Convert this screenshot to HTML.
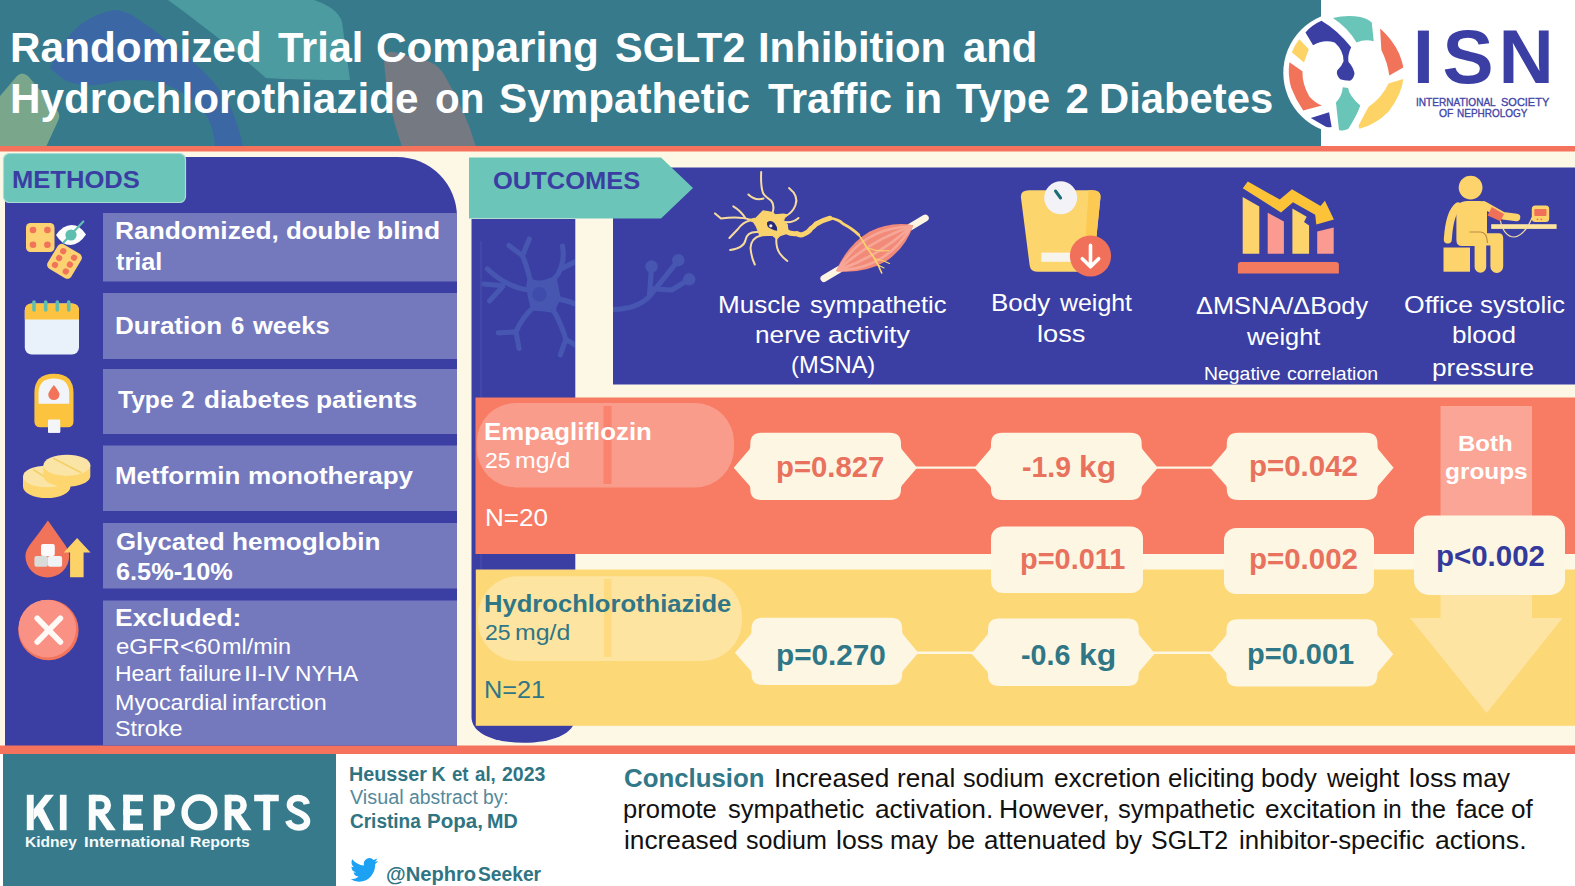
<!DOCTYPE html>
<html><head><meta charset="utf-8">
<style>
html,body{margin:0;padding:0;}
body{width:1575px;height:886px;overflow:hidden;background:#fdf8e6;font-family:"Liberation Sans",sans-serif;position:relative;}
.abs{position:absolute;}
.t{position:absolute;white-space:nowrap;line-height:1;}
#bg{position:absolute;left:0;top:0;}
.title{color:#fff;font-weight:bold;font-size:42.3px;word-spacing:3.5px;}
.row{position:absolute;left:103.5px;width:353.5px;background:#7478bd;}
.rt{color:#fff;font-weight:bold;font-size:24.5px;word-spacing:4px;left:116px;}
.ex{color:#fff;font-size:23px;left:116px;word-spacing:2px;}
.oc{color:#fff;font-size:25px;text-align:center;word-spacing:2px;}
.pv{font-weight:bold;font-size:28px;text-align:center;}
</style></head><body>
<svg id="bg" width="1575" height="886" viewBox="0 0 1575 886">
<!-- header -->
<rect x="0" y="0" width="1322" height="147" fill="#367a8c"/>
<rect x="1321" y="0" width="254" height="147" fill="#ffffff"/>
<rect x="0" y="146" width="1575" height="5.5" fill="#f5725c"/>
<!-- methods panel -->
<path d="M5 157 H397 A60 60 0 0 1 457 217 V746 H5 Z" fill="#3b3fa4"/>
<!-- outcomes left column -->
<path d="M471.5 219 H575.3 V717 C575.3 734 552 742.8 523.4 742.8 C495 742.8 471.5 734 471.5 717 Z" fill="#3b3fa4"/>
<!-- outcomes main panel -->
<rect x="613" y="167.5" width="962" height="217" fill="#3b3fa4"/>
<!-- ===== faded neuron in outcomes ===== -->
<defs><clipPath id="colclip"><rect x="471.5" y="219" width="103.5" height="525"/><rect x="613" y="167.5" width="962" height="217"/></clipPath></defs>
<g clip-path="url(#colclip)">
<g transform="translate(465 215) scale(0.2144)" stroke="#4656b1" stroke-linecap="round" stroke-linejoin="round" fill="none" stroke-width="24">
<path d="M305 310 Q290 240 268 190 L205 142 M268 190 L300 112"/>
<path d="M415 300 Q470 240 455 145 M450 250 Q490 230 520 215"/>
<path d="M300 350 Q200 340 105 252 M175 330 L88 322 M175 335 L115 400"/>
<path d="M320 430 Q265 480 238 545 L155 550 M238 545 L252 622"/>
<path d="M410 440 Q450 510 470 580 L525 612 M470 580 L445 652"/>
<path d="M430 390 Q480 400 530 420"/>
<path d="M300 300 Q350 330 420 290 Q430 340 440 390 Q420 420 415 450 Q360 440 315 440 Q300 390 295 350 Q290 320 300 300 Z" fill="#4656b1" stroke-width="14"/>
<path d="M690 440 Q800 440 860 380 L870 245 M860 380 L995 212 M880 345 L965 350 L1045 300"/>
</g>
<g fill="#4656b1"><circle cx="651.5" cy="266.5" r="6.2"/><circle cx="678.3" cy="260.2" r="6.2"/><circle cx="689.2" cy="279.3" r="6.2"/></g>
<circle cx="539.5" cy="294.3" r="7.2" fill="#404cab"/>
<line x1="481" y1="241" x2="481" y2="724" stroke="#5a63b8" stroke-width="1" opacity="0.5"/>
</g>
<!-- red / yellow bands -->
<rect x="475.5" y="397.5" width="1100" height="156.5" fill="#f87b64"/>
<rect x="475.8" y="569.5" width="1100" height="156.3" fill="#fdd877"/>
<!-- bottom stripe + footer -->
<rect x="0" y="745.5" width="1575" height="9" fill="#f5725c"/>
<rect x="0" y="754" width="1575" height="132" fill="#ffffff"/>
<rect x="3" y="754" width="333" height="132" fill="#367a8c"/>
<!-- method rows -->
<g fill="#7479be">
<rect x="103" y="213" width="354" height="68.5"/>
<rect x="103" y="293" width="354" height="66"/>
<rect x="103" y="369" width="354" height="65"/>
<rect x="103" y="445.5" width="354" height="65.5"/>
<rect x="103" y="523" width="354" height="65.5"/>
<rect x="103" y="600.5" width="354" height="145"/>
</g>
<!-- capsule pills -->
<rect x="476.8" y="403" width="257.2" height="84.4" rx="39" fill="#ffffff" fill-opacity="0.25"/>
<rect x="603.5" y="406" width="8" height="78" fill="#f87b64" fill-opacity="0.75"/>
<rect x="478" y="576.2" width="264" height="84.8" rx="40" fill="#ffffff" fill-opacity="0.3"/>
<rect x="604" y="579" width="7.5" height="78" fill="#fdd877" fill-opacity="0.75"/>
<!-- both-groups arrow -->
<path d="M1440.5 406 H1532 V618 H1562.5 L1486.7 713 L1410 618 H1440.5 Z" fill="#ffffff" fill-opacity="0.32"/>
<!-- connectors -->
<g stroke="#fcf6e3" stroke-width="2.4">
<line x1="915" y1="467.6" x2="976" y2="467.6"/>
<line x1="1156" y1="467.6" x2="1212" y2="467.6"/>
<line x1="915" y1="652.8" x2="973" y2="652.8"/>
<line x1="1152" y1="652.8" x2="1212" y2="652.8"/>
</g>
<!-- plaque boxes -->
<defs>
<path id="plq" d="M11 0 H139.7 Q150.7 0 150.7 11 V14 L151.4 16.5 L166.8 35 L151.4 53 L150.7 55 V56.3 Q150.7 67.3 139.7 67.3 H11 Q0 67.3 0 56.3 V55 L-0.7 53 L-16.6 35 L-0.7 16.5 L0 14 V11 Q0 0 11 0 Z"/>
</defs>
<g fill="#fcf6e3">
<use href="#plq" x="750.3" y="432.7"/>
<use href="#plq" x="991" y="432.7"/>
<use href="#plq" x="1226.8" y="432.7"/>
<use href="#plq" x="751.5" y="617.7"/>
<use href="#plq" x="988" y="618.6"/>
<use href="#plq" x="1226.5" y="619.2"/>
<rect x="991" y="526.5" width="152" height="66.5" rx="12"/>
<rect x="1224" y="528" width="150" height="66" rx="12"/>
<rect x="1414" y="515.5" width="151" height="79.5" rx="15"/>
</g>
<!-- tags -->
<rect x="3.5" y="153.5" width="182" height="49" rx="6" fill="#6bc5b9" stroke="#a9ddd6" stroke-width="1.2"/>
<path d="M469 157.5 H661 L693 188 L661 218.5 H469 Z" fill="#6bc5b9"/>
</svg>
<svg class="abs" style="left:0;top:0" width="1575" height="886" viewBox="0 0 1575 886">
<!-- ===== Methods icons ===== -->
<!-- dice -->
<rect x="26" y="223" width="28.5" height="29" rx="4.5" fill="#fdd272"/>
<g fill="#f0735a"><circle cx="33" cy="230" r="3.3"/><circle cx="47.4" cy="230" r="3.3"/><circle cx="33" cy="244.7" r="3.3"/><circle cx="47.4" cy="244.7" r="3.3"/></g>
<!-- eye -->
<path d="M56 235 Q63 225 71.5 225 Q80 225 86 234.5 Q79 245 70.5 245 Q62 245 56 235 Z" fill="#fdfdfb"/>
<circle cx="71" cy="235" r="5.6" fill="#5fbfae"/>
<line x1="83.3" y1="221.5" x2="63.5" y2="242.5" stroke="#5fbfae" stroke-width="2.2" stroke-linecap="round"/>
<g transform="translate(64.5 261.3) rotate(31)">
<rect x="-13.7" y="-14.2" width="27.4" height="28.4" rx="4.5" fill="#fdd272"/>
<g fill="#f0735a"><circle cx="-6.3" cy="-8" r="3.1"/><circle cx="-6.3" cy="0" r="3.1"/><circle cx="-6.3" cy="8" r="3.1"/><circle cx="6.3" cy="-8" r="3.1"/><circle cx="6.3" cy="0" r="3.1"/><circle cx="6.3" cy="8" r="3.1"/></g>
</g>
<!-- calendar -->
<rect x="24.8" y="303.5" width="54.2" height="51" rx="7" fill="#e9f1fb"/>
<path d="M24.8 319.5 V310.5 Q24.8 303.5 31.8 303.5 H72 Q79 303.5 79 310.5 V319.5 Z" fill="#fdc340"/>
<g stroke="#5fbfae" stroke-width="3.6" stroke-linecap="round"><line x1="34" y1="302" x2="34" y2="310"/><line x1="45.7" y1="302" x2="45.7" y2="310"/><line x1="57.3" y1="302" x2="57.3" y2="310"/><line x1="68.7" y1="302" x2="68.7" y2="310"/></g>
<!-- glucose meter -->
<rect x="48" y="417" width="12.2" height="15.8" rx="1" fill="#f4f5f8"/>
<path d="M34.4 393 Q34.4 373.7 54 373.7 Q73.5 373.7 73.5 393 V421.3 Q73.5 427.3 67.5 427.3 H40.4 Q34.4 427.3 34.4 421.3 Z" fill="#fcc33f"/>
<path d="M38.5 393.5 Q38.5 378.5 54 378.5 Q69.2 378.5 69.2 393.5 V403.8 H38.5 Z" fill="#f1f4f8"/>
<path d="M53.9 385 Q59.5 392 59.5 394.5 A5.6 5.6 0 0 1 48.3 394.5 Q48.3 392 53.9 385 Z" fill="#f0735a"/>
<rect x="48" y="419.5" width="12.2" height="13.2" rx="1" fill="#f4f5f8"/>
<!-- pills -->
<g>
<path d="M23 476.5 V486.5 A23.7 11.5 0 0 0 70.5 486.5 V476.5 Z" fill="#fdd66f"/>
<ellipse cx="46.7" cy="476.5" rx="23.7" ry="10.8" fill="#fbe5a6"/>
<line x1="33" y1="469.5" x2="50" y2="480" stroke="#f3d069" stroke-width="1.6"/>
<path d="M43.4 465.5 V476.5 A23.5 10.8 0 0 0 90.3 476.5 V465.5 Z" fill="#fdd66f"/>
<ellipse cx="66.9" cy="465.3" rx="23.5" ry="10.6" fill="#fbe5a6"/>
<line x1="53.3" y1="458.3" x2="81.3" y2="472.8" stroke="#f3d069" stroke-width="1.8"/>
</g>
<!-- blood drop w sugar -->
<path d="M47.9 520.5 Q56 532 63 542 Q69.2 550 69.2 556 A21.9 21.5 0 0 1 25.4 556 Q25.4 550 32 542 Q40 532 47.9 520.5 Z" fill="#f0735a"/>
<rect x="41" y="544" width="13.8" height="12" rx="2" fill="#fbfbfb"/>
<rect x="34.4" y="556" width="13.5" height="10.8" rx="2" fill="#d9dcd8"/>
<rect x="47.9" y="556" width="14.2" height="10.8" rx="2" fill="#eff3f6"/>
<path d="M77.1 538 L90.5 552.6 H83.6 V577.2 H70.1 V552.6 H63.8 Z" fill="#fdd368"/>
<!-- x circle -->
<circle cx="48.4" cy="630" r="30.2" fill="#f0735a"/>
<circle cx="46.6" cy="627.8" r="27.9" fill="#f99284"/>
<circle cx="47.4" cy="628.8" r="28.7" fill="#f99284"/>
<g stroke="#fffaf6" stroke-width="5.6" stroke-linecap="round"><line x1="37.2" y1="618.3" x2="60.4" y2="642"/><line x1="60.4" y1="618.3" x2="37.2" y2="642"/></g>

<!-- ===== Outcome icons ===== -->
<!-- scale -->
<path d="M1021 198 Q1020 190.3 1029 190.3 H1092.5 Q1101.3 190.3 1100.4 198 L1093.6 265 Q1093 271.8 1086 271.8 H1037 Q1030.3 271.8 1029.6 265 Z" fill="#fdd56d"/>
<path d="M1088.5 190.3 H1092.5 Q1101.3 190.3 1100.4 198 L1094.5 256 L1085.5 240 Z" fill="#fcca52"/>
<circle cx="1060.7" cy="197.8" r="16.5" fill="#f3f2f6"/>
<line x1="1055.5" y1="191" x2="1060.6" y2="198" stroke="#1f6d76" stroke-width="3" stroke-linecap="round"/>
<rect x="1041.3" y="252.6" width="30" height="9.2" fill="#f7f4ee"/>
<circle cx="1090.5" cy="256" r="20.6" fill="#f0705a"/>
<g stroke="#fff" stroke-width="3.6" stroke-linecap="round" stroke-linejoin="round" fill="none"><line x1="1090.5" y1="245.4" x2="1090.5" y2="265.5"/><path d="M1082.3 258.7 L1090.5 266.8 L1098.7 258.7"/></g>
<!-- bar chart -->
<path d="M1242.7 197.1 L1259.3 206.6 V253.7 H1242.7 Z" fill="#fdd46b"/>
<path d="M1267.7 212.7 L1283.9 221.5 V253.7 H1267.7 Z" fill="#fb9a90"/>
<path d="M1292.4 208.6 L1306.7 216.7 L1304 222.1 L1309.1 225.5 V253.7 H1292.4 Z" fill="#fdd46b"/>
<path d="M1317.2 231.6 L1333.7 227.5 V253.7 H1317.2 Z" fill="#fb9a90"/>
<path d="M1237.9 265.1 Q1237.9 262.1 1240.9 262.1 H1335.9 Q1338.9 262.1 1338.9 265.1 V273.6 H1237.9 Z" fill="#f27a5e"/>
<path d="M1247.8 181.6 L1279.8 199.6 L1292 189.2 L1320.5 206 L1324.9 200.8 L1333.9 219.6 L1316.3 224.4 L1315.2 214.8 L1293 202.2 L1281 212.6 L1242.8 188.2 Z" fill="#fcc338"/>
<!-- BP person -->
<g fill="#fdd46b">
<circle cx="1470.6" cy="187.6" r="11.9"/>
<path d="M1456.4 212 Q1456.4 201 1467.5 201 H1480 Q1487 201 1487 210 V233.2 H1498.5 Q1503.2 233.2 1503.2 238 V266.5 A6.4 6.4 0 0 1 1490.4 266.5 V245.5 H1486.2 V267 A5.8 5.8 0 0 1 1474.6 267 V246 H1462 Q1456.4 246 1456.4 240 Z"/>
<rect x="1443.5" y="247.5" width="26.5" height="24.2"/>
</g>
<path d="M1458 206.5 Q1449.5 213 1447.8 239.5" stroke="#fdd46b" stroke-width="8" stroke-linecap="round" fill="none"/>
<path d="M1484 205 L1503 215.8 L1516.5 217.4" stroke="#fdd46b" stroke-width="7.6" stroke-linecap="round" stroke-linejoin="round" fill="none"/>
<path d="M1491.8 207 L1504 214 L1500.6 221.2 L1487.6 215.6 Z" fill="#f0705a"/>
<path d="M1469.5 232 H1480.5 Q1487 232.3 1487.5 243" stroke="#b98a45" stroke-width="1.1" fill="none"/>
<rect x="1491.2" y="224.2" width="65.4" height="4.7" fill="#fce3a0"/>
<rect x="1531.8" y="205.5" width="17.4" height="16.6" rx="3.5" fill="#fdd46b"/>
<rect x="1534.3" y="209" width="12.2" height="7" rx="1" fill="#f0705a"/>
<circle cx="1537.5" cy="219.3" r="0.9" fill="#f0705a"/><circle cx="1541.3" cy="219.3" r="0.9" fill="#f0705a"/>
<path d="M1500.4 220.8 Q1504 236.5 1514 237 Q1524 236.5 1532.2 217.4" stroke="#f5dca4" stroke-width="1.2" fill="none"/>
</svg>
<svg class="abs" style="left:0;top:0" width="1575" height="886" viewBox="0 0 1575 886">
<!-- ===== header decorations (faded big logo) ===== -->
<defs><clipPath id="hdr"><rect x="0" y="0" width="1321" height="146"/></clipPath></defs>
<g clip-path="url(#hdr)">
<path d="M50 68 Q62 40 80 25 Q98 12 115 10 Q126 11 135 17 Q152 28 169 42 Q187 56 203 71 Q218 86 228 102 Q238 122 243 147 H215 Q214 130 208 118 Q199 104 186 95 Q170 84 152 81 Q135 79 118 81 Q106 84 95 85 Q78 86 64 80 Z" fill="#3b68a5"/>
<path d="M168 0 H314 Q338 8 342 22 L350 80 Q300 80 266 78 Q232 48 200 24 Q182 10 168 0 Z" fill="#4b9ba0"/>
<path d="M0 96 L17 76 Q22 71 28 76 L57 110 Q61 115 58 121 L46 147 H0 Z" fill="#7aa68b"/>
<path d="M384 60 Q386 50 394 52 L430 62 Q440 66 446 78 Q466 112 476 147 H402 Q386 100 384 60 Z" fill="#747982"/>
</g>
<!-- ===== neuron + muscle ===== -->
<g transform="translate(874.6 248.3) rotate(-30.8)">
<line x1="-59" y1="0" x2="59" y2="0" stroke="#fdf4e2" stroke-width="7" stroke-linecap="round"/>
<path d="M-45 0 Q-22 -17 4 -17 Q28 -15 45 0 Q28 15 4 17 Q-22 17 -45 0 Z" fill="#f28a7a"/>
<g fill="none" stroke="#f7a797" stroke-width="2.6"><path d="M-43 0 Q0 -24 43 0"/><path d="M-43 0 Q0 -9 43 0"/><path d="M-43 0 Q0 9 43 0"/><path d="M-43 0 Q0 24 43 0"/></g>
</g>
<g fill="none" stroke="#fbd36e" stroke-linecap="round" stroke-linejoin="round">
<path d="M786 231.5 Q792 234.5 797 233.5 Q800 236 804 234 Q809 232 811 228.5 Q814 226.5 816 224 Q822 220.5 830 218.2" stroke-width="5"/>
<path d="M830 218.2 Q838 219 843 223.7 Q853 229 858.7 234.8" stroke-width="2.8"/>
<path d="M858.7 234.8 Q863 241 866.7 247.5 Q871 253 874.6 258.7 Q879 266 881.7 273" stroke-width="1.6"/>
<path d="M867.5 248 Q878 252 889 250.5 M874.6 258.7 Q883 260 889.5 263.5 M878 265 L884 268" stroke-width="1.1"/>
</g>
<g fill="none" stroke="#f8dc9c" stroke-width="2" stroke-linecap="round" stroke-linejoin="round">
<path d="M772.5 213 Q775 205 771 200.5 Q765 196.5 763 193 Q760.5 186 761.2 172"/>
<path d="M763.5 198.5 Q755 201 748.4 194.5"/>
<path d="M786 216 Q793 212 795.5 205 Q799 196 789 188"/>
<path d="M785 222 Q793 223 798.5 218"/>
<path d="M751 220 Q740 216 721 218.5 L715 213.4"/>
<path d="M745 217.6 Q741 211 733.3 206.3"/>
<path d="M750 220.5 Q743 222 738 229 L729.4 238"/>
<path d="M757.5 232 Q747 231.5 745.5 240 Q744 248 730.2 250"/>
<path d="M761 235.5 Q751 238 750.5 248 Q751.5 258 754.8 264.5"/>
<path d="M776.5 237 Q775.5 247 779.5 253 Q783 258 787.3 261"/>
</g>
<path d="M748 219.8 L756.2 218 Q760 214 763 210.9 L769.1 211.9 L772.5 212.6 L775.2 214.8 L783.3 214.2 L787.4 214.8 L784.9 217.3 Q783.3 219.5 784 221.4 L787.4 224.8 Q787 228 788.7 231.6 L787.4 233.2 L780 235.6 L776.8 238.8 L772.5 235.2 L760.3 235.8 Q759 234 758.3 231.6 L756.2 226.1 L753.5 222 Z" fill="#fbd36e" stroke="#fbd36e" stroke-width="1.2" stroke-linejoin="round"/>
<path d="M767 222.5 Q770.5 219.5 774.5 223 Q777.5 226.5 777.2 230.8 Q774 230.8 771.5 229 Q766.5 227.5 767 222.5 Z" fill="#262b78"/>
<circle cx="770.8" cy="225.8" r="1.6" fill="#f4efe6"/>
<!-- ===== ISN logo ===== -->
<circle cx="1344.3" cy="72.8" r="61" fill="#ffffff"/>
<g transform="translate(1275 5) scale(0.15235)">
<path d="M380 85 Q470 62 560 78 Q610 90 635 115 L648 238 Q590 222 535 246 Q480 150 380 85 Z" fill="#69c5b8"/>
<path d="M690 155 Q770 225 815 320 Q838 380 842 410 L750 462 Q740 380 698 295 Z" fill="#f0735a"/>
<path d="M842 485 Q835 580 745 700 Q660 785 555 812 L548 792 Q585 720 615 668 Q700 610 745 515 Z" fill="#fdd365"/>
<path d="M445 540 L480 545 Q485 595 560 660 Q540 720 482 812 Q450 830 420 820 L400 640 Q440 600 445 540 Z" fill="#69c5b8"/>
<path d="M235 742 L355 704 L372 800 Q345 808 325 795 Z" fill="#3b3fa4"/>
<path d="M95 375 L180 435 Q178 520 225 600 Q260 640 308 660 L185 692 Q135 620 105 540 Q82 450 95 375 Z" fill="#f0735a"/>
<path d="M160 225 L222 290 L190 377 L110 310 Q130 260 160 225 Z" fill="#fdd365"/>
<path d="M200 180 Q245 130 305 104 Q410 165 500 278 Q475 330 482 372 Q515 410 522 450 Q515 490 492 497 Q450 495 428 488 Q400 460 408 430 Q440 400 450 370 Q452 300 392 246 Q320 222 250 264 Z" fill="#3b3fa4"/>
</g>
<!-- ===== KI REPORTS ===== -->
<g transform="translate(15 780) scale(0.19685)" fill="#fbfdfd">
<rect x="60" y="75" width="35" height="180"/>
<path d="M95 148 L153 75 H198 L95 205 Z"/><path d="M105 165 L135 128 L200 255 H157 Z"/>
<rect x="228" y="75" width="34" height="180"/>
<rect x="375" y="75" width="35" height="180"/>
<path d="M392 91.5 H436.5 A36.8 36.8 0 0 1 436.5 165 H392" fill="none" stroke="#fbfdfd" stroke-width="33"/>
<path d="M415 178 H458 L512 255 H468 Z"/>
<rect x="550" y="75" width="34" height="180"/><rect x="550" y="75" width="100" height="33"/><rect x="550" y="148" width="92" height="32"/><rect x="550" y="222" width="100" height="33"/>
<rect x="705" y="75" width="35" height="180"/>
<path d="M722 91.5 H761.5 A36.8 36.8 0 0 1 761.5 165 H722" fill="none" stroke="#fbfdfd" stroke-width="33"/>
<circle cx="937" cy="165" r="75.5" fill="none" stroke="#fbfdfd" stroke-width="33"/>
<rect x="1065" y="75" width="35" height="180"/>
<path d="M1082 91.5 H1126.5 A36.8 36.8 0 0 1 1126.5 165 H1082" fill="none" stroke="#fbfdfd" stroke-width="33"/>
<path d="M1105 178 H1148 L1202 255 H1158 Z"/>
<rect x="1215" y="75" width="125" height="33"/><rect x="1261" y="75" width="35" height="180"/>
<path d="M1482 122 C1474 82 1400 80 1396 124 C1392 166 1480 160 1484 208 C1486 252 1402 254 1388 206" fill="none" stroke="#fbfdfd" stroke-width="32"/>
</g>
<!-- ===== twitter bird ===== -->
<g transform="translate(350.4 855.4) scale(1.15 1.21)">
<path fill="#1da1f2" d="M23.953 4.57a10 10 0 01-2.825.775 4.958 4.958 0 002.163-2.723c-.951.555-2.005.959-3.127 1.184a4.92 4.92 0 00-8.384 4.482C7.69 8.095 4.067 6.13 1.64 3.162a4.822 4.822 0 00-.666 2.475c0 1.71.87 3.213 2.188 4.096a4.904 4.904 0 01-2.228-.616v.06a4.923 4.923 0 003.946 4.827 4.996 4.996 0 01-2.212.085 4.936 4.936 0 004.604 3.417 9.867 9.867 0 01-6.102 2.105c-.39 0-.779-.023-1.17-.067a13.995 13.995 0 007.557 2.209c9.053 0 13.998-7.496 13.998-13.985 0-.21 0-.42-.015-.63A9.935 9.935 0 0024 4.59z"/>
</g>
</svg>
<div class="t " style="top:27px;font-size:42px;font-weight:bold;left:9.55px;transform-origin:0 0;transform:scaleX(1.0083);color:#ffffff;">Randomized</div>
<div class="t " style="top:27px;font-size:42px;font-weight:bold;left:277.50px;transform-origin:0 0;transform:scaleX(0.9881);color:#ffffff;">Trial</div>
<div class="t " style="top:27px;font-size:42px;font-weight:bold;left:375.88px;transform-origin:0 0;transform:scaleX(1.0052);color:#ffffff;">Comparing</div>
<div class="t " style="top:27px;font-size:42px;font-weight:bold;left:614.95px;transform-origin:0 0;transform:scaleX(0.9867);color:#ffffff;">SGLT2</div>
<div class="t " style="top:27px;font-size:42px;font-weight:bold;left:758.29px;transform-origin:0 0;transform:scaleX(0.9958);color:#ffffff;">Inhibition</div>
<div class="t " style="top:27px;font-size:42px;font-weight:bold;left:962.95px;transform-origin:0 0;transform:scaleX(0.9968);color:#ffffff;">and</div>
<div class="t " style="top:78px;font-size:42px;font-weight:bold;left:9.56px;transform-origin:0 0;transform:scaleX(1.0061);color:#ffffff;">Hydrochlorothiazide</div>
<div class="t " style="top:78px;font-size:42px;font-weight:bold;left:434.64px;transform-origin:0 0;transform:scaleX(0.9611);color:#ffffff;">on</div>
<div class="t " style="top:78px;font-size:42px;font-weight:bold;left:498.94px;transform-origin:0 0;transform:scaleX(1.0051);color:#ffffff;">Sympathetic</div>
<div class="t " style="top:78px;font-size:42px;font-weight:bold;left:768.00px;transform-origin:0 0;transform:scaleX(0.9840);color:#ffffff;">Traffic</div>
<div class="t " style="top:78px;font-size:42px;font-weight:bold;left:904.02px;transform-origin:0 0;transform:scaleX(1.0193);color:#ffffff;">in</div>
<div class="t " style="top:78px;font-size:42px;font-weight:bold;left:955.60px;transform-origin:0 0;transform:scaleX(0.9940);color:#ffffff;">Type</div>
<div class="t " style="top:78px;font-size:42px;font-weight:bold;left:1065.39px;letter-spacing:0.00px;color:#ffffff;">2</div>
<div class="t " style="top:78px;font-size:42px;font-weight:bold;left:1099.39px;transform-origin:0 0;transform:scaleX(0.9956);color:#ffffff;">Diabetes</div>
<div class="t " style="top:168px;font-size:24.5px;font-weight:bold;left:11.53px;transform-origin:0 0;transform:scaleX(1.0437);color:#3a3ea3;">METHODS</div>
<div class="t " style="top:169px;font-size:24.5px;font-weight:bold;left:493.06px;transform-origin:0 0;transform:scaleX(1.0400);color:#3a3ea3;">OUTCOMES</div>
<div class="t " style="top:219px;font-size:24px;font-weight:bold;left:114.74px;transform-origin:0 0;transform:scaleX(1.0973);color:#ffffff;">Randomized,</div>
<div class="t " style="top:219px;font-size:24px;font-weight:bold;left:286.43px;transform-origin:0 0;transform:scaleX(1.0778);color:#ffffff;">double</div>
<div class="t " style="top:219px;font-size:24px;font-weight:bold;left:377.35px;transform-origin:0 0;transform:scaleX(1.1003);color:#ffffff;">blind</div>
<div class="t " style="top:250px;font-size:24px;font-weight:bold;left:116.29px;transform-origin:0 0;transform:scaleX(1.0487);color:#ffffff;">trial</div>
<div class="t " style="top:314px;font-size:24px;font-weight:bold;left:114.76px;transform-origin:0 0;transform:scaleX(1.0858);color:#ffffff;">Duration</div>
<div class="t " style="top:314px;font-size:24px;font-weight:bold;left:231.00px;letter-spacing:0.00px;color:#ffffff;">6</div>
<div class="t " style="top:314px;font-size:24px;font-weight:bold;left:253.11px;transform-origin:0 0;transform:scaleX(1.0630);color:#ffffff;">weeks</div>
<div class="t " style="top:388px;font-size:24px;font-weight:bold;left:118.10px;transform-origin:0 0;transform:scaleX(1.0246);color:#ffffff;">Type</div>
<div class="t " style="top:388px;font-size:24px;font-weight:bold;left:181.20px;letter-spacing:0.00px;color:#ffffff;">2</div>
<div class="t " style="top:388px;font-size:24px;font-weight:bold;left:204.02px;transform-origin:0 0;transform:scaleX(1.0835);color:#ffffff;">diabetes</div>
<div class="t " style="top:388px;font-size:24px;font-weight:bold;left:316.05px;transform-origin:0 0;transform:scaleX(1.0997);color:#ffffff;">patients</div>
<div class="t " style="top:464px;font-size:24px;font-weight:bold;left:114.77px;transform-origin:0 0;transform:scaleX(1.0812);color:#ffffff;">Metformin</div>
<div class="t " style="top:464px;font-size:24px;font-weight:bold;left:248.47px;transform-origin:0 0;transform:scaleX(1.0859);color:#ffffff;">monotherapy</div>
<div class="t " style="top:530px;font-size:24px;font-weight:bold;left:115.53px;transform-origin:0 0;transform:scaleX(1.0726);color:#ffffff;">Glycated</div>
<div class="t " style="top:530px;font-size:24px;font-weight:bold;left:232.25px;transform-origin:0 0;transform:scaleX(1.0916);color:#ffffff;">hemoglobin</div>
<div class="t " style="top:560px;font-size:24px;font-weight:bold;left:115.66px;transform-origin:0 0;transform:scaleX(1.0540);color:#ffffff;">6.5%-10%</div>
<div class="t " style="top:606px;font-size:24px;font-weight:bold;left:114.74px;transform-origin:0 0;transform:scaleX(1.1020);color:#ffffff;">Excluded:</div>
<div class="t " style="top:636px;font-size:22.5px;font-weight:normal;left:115.54px;transform-origin:0 0;transform:scaleX(1.0647);color:#ffffff;">eGFR&lt;60</div>
<div class="t " style="top:636px;font-size:22.5px;font-weight:normal;left:222.24px;transform-origin:0 0;transform:scaleX(1.0404);color:#ffffff;">ml/min</div>
<div class="t " style="top:663px;font-size:22.5px;font-weight:normal;left:114.67px;transform-origin:0 0;transform:scaleX(1.0194);color:#ffffff;">Heart</div>
<div class="t " style="top:663px;font-size:22.5px;font-weight:normal;left:178.69px;transform-origin:0 0;transform:scaleX(1.0188);color:#ffffff;">failure</div>
<div class="t " style="top:663px;font-size:22.5px;font-weight:normal;left:244.48px;transform-origin:0 0;transform:scaleX(1.1084);color:#ffffff;">II-IV</div>
<div class="t " style="top:663px;font-size:22.5px;font-weight:normal;left:294.79px;transform-origin:0 0;transform:scaleX(1.0082);color:#ffffff;">NYHA</div>
<div class="t " style="top:692px;font-size:22.5px;font-weight:normal;left:114.64px;transform-origin:0 0;transform:scaleX(1.0342);color:#ffffff;">Myocardial</div>
<div class="t " style="top:692px;font-size:22.5px;font-weight:normal;left:232.44px;transform-origin:0 0;transform:scaleX(1.0375);color:#ffffff;">infarction</div>
<div class="t " style="top:718px;font-size:22.5px;font-weight:normal;left:115.46px;transform-origin:0 0;transform:scaleX(1.0378);color:#ffffff;">Stroke</div>
<div class="t " style="top:293px;font-size:24.5px;font-weight:normal;left:718.47px;transform-origin:0 0;transform:scaleX(1.0647);color:#ffffff;">Muscle</div>
<div class="t " style="top:293px;font-size:24.5px;font-weight:normal;left:810.27px;transform-origin:0 0;transform:scaleX(1.0450);color:#ffffff;">sympathetic</div>
<div class="t " style="top:323px;font-size:24.5px;font-weight:normal;left:754.89px;transform-origin:0 0;transform:scaleX(1.0706);color:#ffffff;">nerve</div>
<div class="t " style="top:323px;font-size:24.5px;font-weight:normal;left:828.01px;transform-origin:0 0;transform:scaleX(1.0943);color:#ffffff;">activity</div>
<div class="t " style="top:353px;font-size:24.5px;font-weight:normal;left:791.45px;transform-origin:0 0;transform:scaleX(0.9674);color:#ffffff;">(MSNA)</div>
<div class="t " style="top:291px;font-size:24.5px;font-weight:normal;left:990.78px;transform-origin:0 0;transform:scaleX(1.0595);color:#ffffff;">Body</div>
<div class="t " style="top:291px;font-size:24.5px;font-weight:normal;left:1059.50px;transform-origin:0 0;transform:scaleX(1.0168);color:#ffffff;">weight</div>
<div class="t " style="top:322px;font-size:24.5px;font-weight:normal;left:1036.82px;transform-origin:0 0;transform:scaleX(1.1114);color:#ffffff;">loss</div>
<div class="t " style="top:294px;font-size:24.5px;font-weight:normal;left:1196.48px;transform-origin:0 0;transform:scaleX(1.0356);color:#ffffff;">ΔMSNA/ΔBody</div>
<div class="t " style="top:325px;font-size:24.5px;font-weight:normal;left:1247.20px;transform-origin:0 0;transform:scaleX(1.0365);color:#ffffff;">weight</div>
<div class="t " style="top:365px;font-size:18.5px;font-weight:normal;left:1203.73px;transform-origin:0 0;transform:scaleX(1.0491);color:#ffffff;">Negative</div>
<div class="t " style="top:365px;font-size:18.5px;font-weight:normal;left:1286.86px;transform-origin:0 0;transform:scaleX(1.0546);color:#ffffff;">correlation</div>
<div class="t " style="top:293px;font-size:24.5px;font-weight:normal;left:1403.81px;transform-origin:0 0;transform:scaleX(1.0843);color:#ffffff;">Office</div>
<div class="t " style="top:293px;font-size:24.5px;font-weight:normal;left:1479.87px;transform-origin:0 0;transform:scaleX(1.0572);color:#ffffff;">systolic</div>
<div class="t " style="top:323px;font-size:24.5px;font-weight:normal;left:1452.00px;transform-origin:0 0;transform:scaleX(1.0664);color:#ffffff;">blood</div>
<div class="t " style="top:356px;font-size:24.5px;font-weight:normal;left:1432.29px;transform-origin:0 0;transform:scaleX(1.0701);color:#ffffff;">pressure</div>
<div class="t " style="top:420px;font-size:24px;font-weight:bold;left:484.18px;transform-origin:0 0;transform:scaleX(1.0762);color:#ffffff;">Empagliflozin</div>
<div class="t " style="top:451px;font-size:21.5px;font-weight:normal;left:484.83px;transform-origin:0 0;transform:scaleX(1.0699);color:#ffffff;">25</div>
<div class="t " style="top:451px;font-size:21.5px;font-weight:normal;left:515.38px;transform-origin:0 0;transform:scaleX(1.1567);color:#ffffff;">mg/d</div>
<div class="t " style="top:506px;font-size:24px;font-weight:normal;left:484.73px;transform-origin:0 0;transform:scaleX(1.0869);color:#ffffff;">N=20</div>
<div class="t " style="top:592px;font-size:24px;font-weight:bold;left:484.19px;transform-origin:0 0;transform:scaleX(1.0659);color:#2f7686;">Hydrochlorothiazide</div>
<div class="t " style="top:623px;font-size:21.5px;font-weight:normal;left:484.83px;transform-origin:0 0;transform:scaleX(1.0699);color:#2f7686;">25</div>
<div class="t " style="top:623px;font-size:21.5px;font-weight:normal;left:515.38px;transform-origin:0 0;transform:scaleX(1.1567);color:#2f7686;">mg/d</div>
<div class="t " style="top:678px;font-size:24px;font-weight:normal;left:483.50px;transform-origin:0 0;transform:scaleX(1.0528);color:#2f7686;">N=21</div>
<div class="t " style="top:453px;font-size:29px;font-weight:bold;left:775.87px;transform-origin:0 0;transform:scaleX(1.0093);color:#e8725e;">p=0.827</div>
<div class="t " style="top:453px;font-size:29px;font-weight:bold;left:1021.71px;transform-origin:0 0;transform:scaleX(0.9805);color:#e8725e;">-1.9</div>
<div class="t " style="top:453px;font-size:29px;font-weight:bold;left:1079.02px;transform-origin:0 0;transform:scaleX(1.0936);color:#e8725e;">kg</div>
<div class="t " style="top:452px;font-size:29px;font-weight:bold;left:1249.16px;transform-origin:0 0;transform:scaleX(1.0164);color:#e8725e;">p=0.042</div>
<div class="t " style="top:545px;font-size:29px;font-weight:bold;left:1019.79px;transform-origin:0 0;transform:scaleX(0.9972);color:#e8725e;">p=0.011</div>
<div class="t " style="top:545px;font-size:29px;font-weight:bold;left:1249.16px;transform-origin:0 0;transform:scaleX(1.0164);color:#e8725e;">p=0.002</div>
<div class="t " style="top:542px;font-size:29px;font-weight:bold;left:1436.46px;transform-origin:0 0;transform:scaleX(1.0164);color:#343a9c;">p&lt;0.002</div>
<div class="t " style="top:641px;font-size:29px;font-weight:bold;left:776.04px;transform-origin:0 0;transform:scaleX(1.0246);color:#2f7686;">p=0.270</div>
<div class="t " style="top:641px;font-size:29px;font-weight:bold;left:1020.80px;transform-origin:0 0;transform:scaleX(0.9888);color:#2f7686;">-0.6</div>
<div class="t " style="top:641px;font-size:29px;font-weight:bold;left:1079.01px;transform-origin:0 0;transform:scaleX(1.1002);color:#2f7686;">kg</div>
<div class="t " style="top:640px;font-size:29px;font-weight:bold;left:1247.29px;transform-origin:0 0;transform:scaleX(1.0001);color:#2f7686;">p=0.001</div>
<div class="t " style="top:433px;font-size:22.5px;font-weight:bold;left:1458.30px;transform-origin:0 0;transform:scaleX(1.0664);color:#ffffff;">Both</div>
<div class="t " style="top:461px;font-size:22.5px;font-weight:bold;left:1445.02px;transform-origin:0 0;transform:scaleX(1.0842);color:#ffffff;">groups</div>
<div class="t " style="top:765px;font-size:19.5px;font-weight:bold;left:348.98px;transform-origin:0 0;transform:scaleX(1.0123);color:#2f7483;">Heusser</div>
<div class="t " style="top:765px;font-size:19.5px;font-weight:bold;left:431.40px;letter-spacing:0.00px;color:#2f7483;">K</div>
<div class="t " style="top:765px;font-size:19.5px;font-weight:bold;left:451.63px;transform-origin:0 0;transform:scaleX(0.9547);color:#2f7483;">et</div>
<div class="t " style="top:765px;font-size:19.5px;font-weight:bold;left:474.52px;transform-origin:0 0;transform:scaleX(0.9568);color:#2f7483;">al,</div>
<div class="t " style="top:765px;font-size:19.5px;font-weight:bold;left:502.00px;transform-origin:0 0;transform:scaleX(0.9992);color:#2f7483;">2023</div>
<div class="t " style="top:788px;font-size:19.5px;font-weight:normal;left:350.00px;transform-origin:0 0;transform:scaleX(1.0170);color:#55899a;">Visual</div>
<div class="t " style="top:788px;font-size:19.5px;font-weight:normal;left:408.51px;transform-origin:0 0;transform:scaleX(0.9920);color:#55899a;">abstract</div>
<div class="t " style="top:788px;font-size:19.5px;font-weight:normal;left:483.42px;transform-origin:0 0;transform:scaleX(0.9829);color:#55899a;">by:</div>
<div class="t " style="top:812px;font-size:19.5px;font-weight:bold;left:349.82px;transform-origin:0 0;transform:scaleX(0.9742);color:#2f7483;">Cristina</div>
<div class="t " style="top:812px;font-size:19.5px;font-weight:bold;left:427.43px;transform-origin:0 0;transform:scaleX(1.0519);color:#2f7483;">Popa,</div>
<div class="t " style="top:812px;font-size:19.5px;font-weight:bold;left:486.88px;transform-origin:0 0;transform:scaleX(1.0126);color:#2f7483;">MD</div>
<div class="t " style="top:865px;font-size:19.5px;font-weight:bold;left:385.56px;transform-origin:0 0;transform:scaleX(1.0333);color:#2f7483;">@Nephro</div>
<div class="t " style="top:865px;font-size:19.5px;font-weight:bold;left:478.21px;transform-origin:0 0;transform:scaleX(0.9860);color:#2f7483;">Seeker</div>
<div class="t " style="top:766px;font-size:25.8px;font-weight:bold;left:624.09px;transform-origin:0 0;transform:scaleX(1.0006);color:#317888;">Conclusion</div>
<div class="t " style="top:766px;font-size:25.8px;font-weight:normal;left:773.75px;transform-origin:0 0;transform:scaleX(1.0179);color:#111111;">Increased</div>
<div class="t " style="top:766px;font-size:25.8px;font-weight:normal;left:896.66px;transform-origin:0 0;transform:scaleX(1.0156);color:#111111;">renal</div>
<div class="t " style="top:766px;font-size:25.8px;font-weight:normal;left:963.21px;transform-origin:0 0;transform:scaleX(0.9763);color:#111111;">sodium</div>
<div class="t " style="top:766px;font-size:25.8px;font-weight:normal;left:1054.48px;transform-origin:0 0;transform:scaleX(1.0182);color:#111111;">excretion</div>
<div class="t " style="top:766px;font-size:25.8px;font-weight:normal;left:1168.29px;transform-origin:0 0;transform:scaleX(1.0049);color:#111111;">eliciting</div>
<div class="t " style="top:766px;font-size:25.8px;font-weight:normal;left:1260.89px;transform-origin:0 0;transform:scaleX(0.9994);color:#111111;">body</div>
<div class="t " style="top:766px;font-size:25.8px;font-weight:normal;left:1327.39px;transform-origin:0 0;transform:scaleX(0.9724);color:#111111;">weight</div>
<div class="t " style="top:766px;font-size:25.8px;font-weight:normal;left:1409.22px;transform-origin:0 0;transform:scaleX(1.0400);color:#111111;">loss</div>
<div class="t " style="top:766px;font-size:25.8px;font-weight:normal;left:1462.31px;transform-origin:0 0;transform:scaleX(0.9867);color:#111111;">may</div>
<div class="t " style="top:797px;font-size:25.8px;font-weight:normal;left:623.30px;transform-origin:0 0;transform:scaleX(0.9903);color:#111111;">promote</div>
<div class="t " style="top:797px;font-size:25.8px;font-weight:normal;left:727.90px;transform-origin:0 0;transform:scaleX(0.9901);color:#111111;">sympathetic</div>
<div class="t " style="top:797px;font-size:25.8px;font-weight:normal;left:875.38px;transform-origin:0 0;transform:scaleX(1.0183);color:#111111;">activation.</div>
<div class="t " style="top:797px;font-size:25.8px;font-weight:normal;left:999.43px;transform-origin:0 0;transform:scaleX(1.0280);color:#111111;">However,</div>
<div class="t " style="top:797px;font-size:25.8px;font-weight:normal;left:1117.70px;transform-origin:0 0;transform:scaleX(0.9931);color:#111111;">sympathetic</div>
<div class="t " style="top:797px;font-size:25.8px;font-weight:normal;left:1265.08px;transform-origin:0 0;transform:scaleX(1.0184);color:#111111;">excitation</div>
<div class="t " style="top:797px;font-size:25.8px;font-weight:normal;left:1383.29px;transform-origin:0 0;transform:scaleX(0.9342);color:#111111;">in</div>
<div class="t " style="top:797px;font-size:25.8px;font-weight:normal;left:1410.90px;transform-origin:0 0;transform:scaleX(0.9765);color:#111111;">the</div>
<div class="t " style="top:797px;font-size:25.8px;font-weight:normal;left:1456.10px;transform-origin:0 0;transform:scaleX(0.9975);color:#111111;">face</div>
<div class="t " style="top:797px;font-size:25.8px;font-weight:normal;left:1511.28px;transform-origin:0 0;transform:scaleX(1.0145);color:#111111;">of</div>
<div class="t " style="top:828px;font-size:25.8px;font-weight:normal;left:624.16px;transform-origin:0 0;transform:scaleX(1.0183);color:#111111;">increased</div>
<div class="t " style="top:828px;font-size:25.8px;font-weight:normal;left:745.51px;transform-origin:0 0;transform:scaleX(0.9714);color:#111111;">sodium</div>
<div class="t " style="top:828px;font-size:25.8px;font-weight:normal;left:835.73px;transform-origin:0 0;transform:scaleX(1.0331);color:#111111;">loss</div>
<div class="t " style="top:828px;font-size:25.8px;font-weight:normal;left:890.02px;transform-origin:0 0;transform:scaleX(0.9803);color:#111111;">may</div>
<div class="t " style="top:828px;font-size:25.8px;font-weight:normal;left:946.61px;transform-origin:0 0;transform:scaleX(0.9831);color:#111111;">be</div>
<div class="t " style="top:828px;font-size:25.8px;font-weight:normal;left:984.39px;transform-origin:0 0;transform:scaleX(1.0026);color:#111111;">attenuated</div>
<div class="t " style="top:828px;font-size:25.8px;font-weight:normal;left:1114.80px;transform-origin:0 0;transform:scaleX(0.9947);color:#111111;">by</div>
<div class="t " style="top:828px;font-size:25.8px;font-weight:normal;left:1151.32px;transform-origin:0 0;transform:scaleX(0.9671);color:#111111;">SGLT2</div>
<div class="t " style="top:828px;font-size:25.8px;font-weight:normal;left:1238.78px;transform-origin:0 0;transform:scaleX(1.0024);color:#111111;">inhibitor-specific</div>
<div class="t " style="top:828px;font-size:25.8px;font-weight:normal;left:1434.87px;transform-origin:0 0;transform:scaleX(1.0294);color:#111111;">actions.</div>
<div class="t " style="top:19px;font-size:76.6px;font-weight:bold;left:1412.81px;letter-spacing:0.00px;color:#3b3fa4;">I</div>
<div class="t " style="top:19px;font-size:76.6px;font-weight:bold;left:1442.40px;letter-spacing:0.00px;color:#3b3fa4;">S</div>
<div class="t " style="top:19px;font-size:76.6px;font-weight:bold;left:1498.61px;letter-spacing:0.00px;color:#3b3fa4;">N</div>
<div class="t " style="top:97px;font-size:11px;font-weight:normal;left:1416.09px;transform-origin:0 0;transform:scaleX(0.9141);color:#4346a6;-webkit-text-stroke:0.35px #4346a6;">INTERNATIONAL</div>
<div class="t " style="top:97px;font-size:11px;font-weight:normal;left:1501.00px;transform-origin:0 0;transform:scaleX(0.9990);color:#4346a6;-webkit-text-stroke:0.35px #4346a6;">SOCIETY</div>
<div class="t " style="top:108px;font-size:11px;font-weight:normal;left:1438.53px;transform-origin:0 0;transform:scaleX(0.9404);color:#4346a6;-webkit-text-stroke:0.35px #4346a6;">OF</div>
<div class="t " style="top:108px;font-size:11px;font-weight:normal;left:1456.68px;transform-origin:0 0;transform:scaleX(0.9086);color:#4346a6;-webkit-text-stroke:0.35px #4346a6;">NEPHROLOGY</div>
<div class="t " style="top:835px;font-size:14.6px;font-weight:bold;left:25.44px;transform-origin:0 0;transform:scaleX(1.0658);color:#f4fafa;">Kidney</div>
<div class="t " style="top:835px;font-size:14.6px;font-weight:bold;left:84.46px;transform-origin:0 0;transform:scaleX(1.1522);color:#f4fafa;">International</div>
<div class="t " style="top:835px;font-size:14.6px;font-weight:bold;left:190.02px;transform-origin:0 0;transform:scaleX(1.0848);color:#f4fafa;">Reports</div>
</body></html>
